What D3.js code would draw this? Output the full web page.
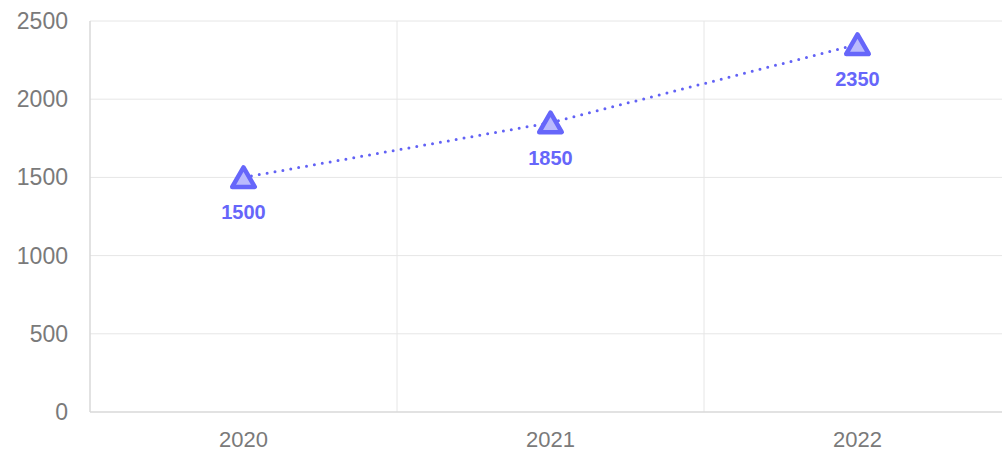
<!DOCTYPE html>
<html>
<head>
<meta charset="utf-8">
<script src="https://cdn.jsdelivr.net/npm/d3@7"></script>
<style>
  html, body { margin: 0; padding: 0; background: #fff; }
  svg { display: block; font-family: "Liberation Sans", Arial, sans-serif; }
</style>
</head>
<body>
<div id="chart"></div>
<script>
// chart values
const years = ['2020', '2021', '2022']
const sales = [1500, 1850, 2350]
const yTicks = [0, 500, 1000, 1500, 2000, 2500]

const WIDTH = 1002
const HEIGHT = 451
const margin = { top: 21, right: -9, bottom: 39, left: 90 }

const svg = d3.select('#chart')
    .append('svg')
    .attr('width', WIDTH)
    .attr('height', HEIGHT)

const x = d3.scaleBand()
    .domain(years)
    .range([margin.left, WIDTH - margin.right])
    .padding(0)

const y = d3.scaleLinear()
    .domain([0, 2500])
    .range([HEIGHT - margin.bottom, margin.top])

// horizontal grid
svg.append('g')
    .selectAll('line')
    .data(yTicks.slice(1))
    .enter()
    .append('line')
    .attr('x1', margin.left)
    .attr('x2', WIDTH - margin.right)
    .attr('y1', d => y(d))
    .attr('y2', d => y(d))
    .style('stroke', '#e6e6e6')
    .style('stroke-width', 1)

// vertical grid between bands
svg.append('g')
    .selectAll('line')
    .data(years.slice(1))
    .enter()
    .append('line')
    .attr('x1', d => x(d))
    .attr('x2', d => x(d))
    .attr('y1', margin.top)
    .attr('y2', y(0))
    .style('stroke', '#e6e6e6')
    .style('stroke-width', 1)

// axes lines
svg.append('line')
    .attr('x1', margin.left).attr('x2', margin.left)
    .attr('y1', margin.top).attr('y2', y(0))
    .style('stroke', '#d9d9d9')
    .style('stroke-width', 1.5)
svg.append('line')
    .attr('x1', margin.left).attr('x2', WIDTH - margin.right)
    .attr('y1', y(0)).attr('y2', y(0))
    .style('stroke', '#d9d9d9')
    .style('stroke-width', 1.5)

// y tick labels
svg.append('g')
    .selectAll('text')
    .data(yTicks)
    .enter()
    .append('text')
    .attr('x', 68)
    .attr('y', d => y(d))
    .attr('dy', '0.35em')
    .style('text-anchor', 'end')
    .style('font-size', '23px')
    .style('fill', '#7a7a7a')
    .text(d => d)

// x tick labels
svg.append('g')
    .selectAll('text')
    .data(years)
    .enter()
    .append('text')
    .attr('x', d => x(d) + x.bandwidth() / 2)
    .attr('y', y(0) + 35)
    .style('text-anchor', 'middle')
    .style('font-size', '22px')
    .style('fill', '#7a7a7a')
    .text(d => d)

const points = years.map((d, i) => [x(d) + x.bandwidth() / 2, y(sales[i])])

// dotted line
svg.append('path')
    .attr('d', d3.line()(points))
    .style('fill', 'none')
    .style('stroke', '#6262f5')
    .style('stroke-width', 3)
    .style('stroke-linecap', 'round')
    .style('stroke-dasharray', '0 8')

// triangle markers
const tri = d3.symbol().type(d3.symbolTriangle).size(220)
svg.append('g')
    .selectAll('path')
    .data(points)
    .enter()
    .append('path')
    .attr('transform', d => `translate(${d[0]},${d[1] + 3})`)
    .attr('d', tri)
    .style('fill', '#babafd')
    .style('stroke', '#6666fa')
    .style('stroke-width', 4.5)
    .style('stroke-linejoin', 'round')

// value labels
svg.append('g')
    .selectAll('text')
    .data(points)
    .enter()
    .append('text')
    .attr('x', d => d[0])
    .attr('y', d => d[1] + 42)
    .style('text-anchor', 'middle')
    .style('font-size', '20px')
    .style('font-weight', 'bold')
    .style('fill', '#6666fa')
    .text((d, i) => sales[i])
</script>
</body>
</html>
